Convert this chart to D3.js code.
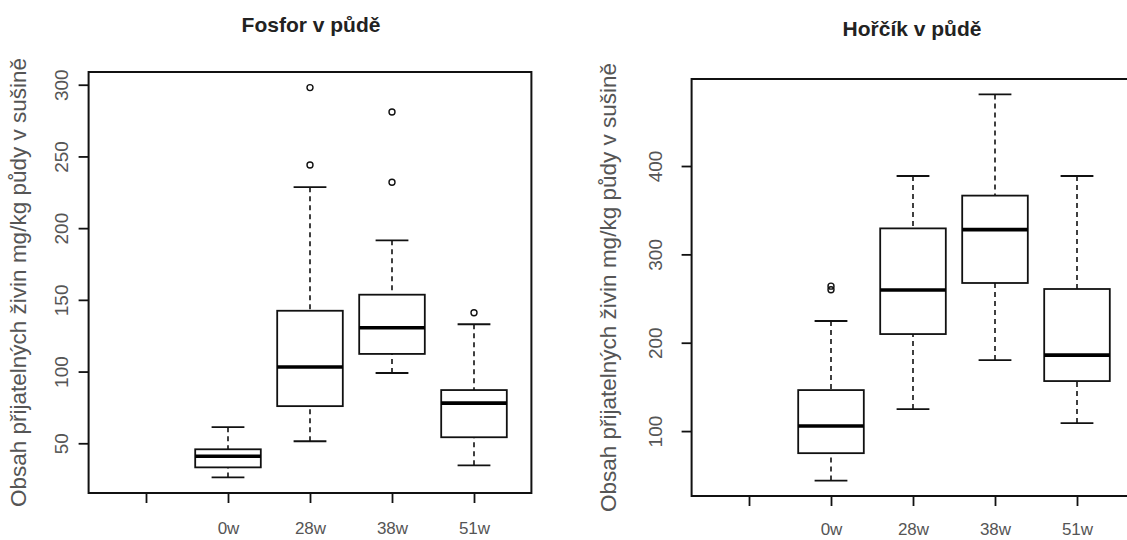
<!DOCTYPE html>
<html lang="cs">
<head>
    <meta charset="UTF-8">
    <title>Fosfor a hořčík v půdě</title>
    <script src="https://d3js.org/d3.v7.min.js"></script>
    <style>
        body { margin: 0; background: #fff; }
        svg { display: block; font-family: "Liberation Sans", Arial, sans-serif; }
    </style>
</head>
<body>
    <svg id="main" width="1127" height="540"></svg>

    <script>
        // groups on the x axis (the first one is empty in the source plot)
        const groups = ["", "0w", "28w", "38w", "51w"]
        const fosforTicks = [50, 100, 150, 200, 250, 300]
        const horcikTicks = [100, 200, 300, 400]

        // [lower whisker, Q1, median, Q3, upper whisker]
        const fosforStats = [
            null,
            [26.2, 33.2, 40.9, 45.8, 61.2],
            [51.4, 75.9, 103.2, 142.4, 228.6],
            [99, 112.3, 130.5, 153.6, 191.5],
            [34.6, 54.2, 78, 87.1, 133]
        ]
        const fosforOutliers = [[], [], [244, 298], [232, 281], [141]]

        const horcikStats = [
            null,
            [44, 75, 105.7, 146.4, 224.6],
            [124.9, 209.8, 259.7, 329.4, 388.7],
            [180.4, 267.6, 328, 366.5, 481],
            [109, 156.6, 186, 260.8, 388.7]
        ]
        const horcikOutliers = [[], [260, 264], [], [], []]

        const axisTitle = "Obsah přijatelných živin mg/kg půdy v sušině"
        const svg = d3.select("#main")

        function drawPanel(p) {
            const g = svg.append("g")
            const all = p.stats.filter(d => d).flat().concat(p.outliers.flat())
            const lo = d3.min(all), hi = d3.max(all), ext = (hi - lo) * 0.04
            const x = d3.scaleLinear().domain([0.3, 5.7]).range([p.left, p.right])
            const y = d3.scaleLinear().domain([lo - ext, hi + ext]).range([p.bottom, p.top])
            const bw = x(1.4) - x(1)   // half box width = 0.4 units
            const cw = bw / 2

            // y axis
            const ya = g.append("g")
                .attr("transform", "translate(" + p.left + ",0)")
                .call(d3.axisLeft(y).tickValues(p.ticks).tickSize(10))
            ya.select(".domain").remove()
            ya.selectAll("line").attr("stroke", "#111").attr("stroke-width", 1.8)
            ya.selectAll("text")
                .attr("x", 0).attr("y", -p.yLabOff).attr("dy", 0)
                .attr("transform", "rotate(-90)")
                .attr("text-anchor", "middle")
                .attr("font-size", 19)
                .attr("fill", "#555")

            // x axis
            const xa = g.append("g")
                .attr("transform", "translate(0," + p.bottom + ")")
                .call(d3.axisBottom(x).tickValues([1, 2, 3, 4, 5]).tickSize(10)
                    .tickFormat(i => groups[i - 1]))
            xa.select(".domain").remove()
            xa.selectAll("line").attr("stroke", "#111").attr("stroke-width", 1.8)
            xa.selectAll("text")
                .attr("y", p.xLabOff).attr("dy", 0)
                .attr("font-size", 17)
                .attr("fill", "#555")

            // frame
            g.append("rect")
                .attr("x", p.left).attr("y", p.top)
                .attr("width", p.right - p.left).attr("height", p.bottom - p.top)
                .attr("fill", "none").attr("stroke", "#111").attr("stroke-width", 2)

            const boxes = g.selectAll(".box")
                .data(p.stats.map((s, i) => ({ s: s, i: i + 1, out: p.outliers[i] })).filter(d => d.s))
                .join("g").attr("class", "box")

            // dashed whiskers
            boxes.append("line")
                .attr("x1", d => x(d.i)).attr("x2", d => x(d.i))
                .attr("y1", d => y(d.s[0])).attr("y2", d => y(d.s[1]))
                .attr("stroke", "#111").attr("stroke-width", 1.6).attr("stroke-dasharray", "5,4")
            boxes.append("line")
                .attr("x1", d => x(d.i)).attr("x2", d => x(d.i))
                .attr("y1", d => y(d.s[4])).attr("y2", d => y(d.s[3]))
                .attr("stroke", "#111").attr("stroke-width", 1.6).attr("stroke-dasharray", "5,4")
            // staples
            boxes.selectAll(".staple")
                .data(d => [[d.i, d.s[0]], [d.i, d.s[4]]])
                .join("line").attr("class", "staple")
                .attr("x1", d => x(d[0]) - cw).attr("x2", d => x(d[0]) + cw)
                .attr("y1", d => y(d[1])).attr("y2", d => y(d[1]))
                .attr("stroke", "#111").attr("stroke-width", 1.8)
            // box
            boxes.append("rect")
                .attr("x", d => x(d.i) - bw).attr("width", 2 * bw)
                .attr("y", d => y(d.s[3])).attr("height", d => y(d.s[1]) - y(d.s[3]))
                .attr("fill", "#fff").attr("stroke", "#111").attr("stroke-width", 1.8)
            // median
            boxes.append("line")
                .attr("x1", d => x(d.i) - bw).attr("x2", d => x(d.i) + bw)
                .attr("y1", d => y(d.s[2])).attr("y2", d => y(d.s[2]))
                .attr("stroke", "#000").attr("stroke-width", 3.6)
            // outliers
            boxes.selectAll("circle")
                .data(d => d.out.map(v => [d.i, v]))
                .join("circle")
                .attr("cx", d => x(d[0])).attr("cy", d => y(d[1])).attr("r", 3)
                .attr("fill", "none").attr("stroke", "#111").attr("stroke-width", 1.4)

            // titles
            g.append("text")
                .attr("x", p.titleX)
                .attr("y", p.titleY)
                .attr("text-anchor", "middle")
                .attr("font-size", 21).attr("font-weight", "bold")
                .attr("fill", "#222")
                .text(p.title)
            g.append("text")
                .attr("transform", "translate(" + p.yTitleX + "," + ((p.top + p.bottom) / 2) + ") rotate(-90)")
                .attr("text-anchor", "middle")
                .attr("font-size", 22.5)
                .attr("fill", "#555")
                .text(axisTitle)
        }

        drawPanel({
            title: "Fosfor v půdě", stats: fosforStats, outliers: fosforOutliers, ticks: fosforTicks,
            left: 88.6, right: 531.4, top: 72, bottom: 493,
            titleX: 311, titleY: 32, yTitleX: 26, yLabOff: 21, xLabOff: 41
        })
        drawPanel({
            title: "Hořčík v půdě", stats: horcikStats, outliers: horcikOutliers, ticks: horcikTicks,
            left: 691.6, right: 1134.4, top: 79, bottom: 496,
            titleX: 912, titleY: 36, yTitleX: 616, yLabOff: 30, xLabOff: 39
        })
    </script>
</body>
</html>
